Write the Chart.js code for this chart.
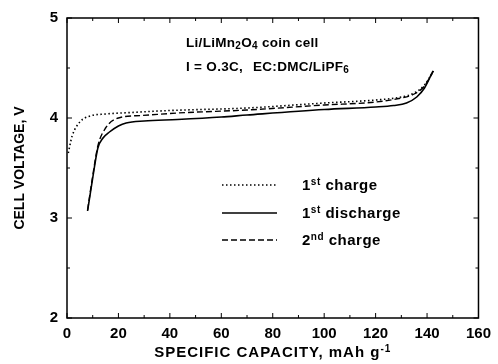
<!DOCTYPE html>
<html>
<head>
<meta charset="utf-8">
<script src="https://cdn.jsdelivr.net/npm/chart.js@4"></script>
<style>
  html, body { margin: 0; padding: 0; background: #fff; }
  #wrap { width: 498px; height: 364px; }
</style>
</head>
<body>
<div id="wrap"><canvas id="chartCell" width="498" height="364"></canvas></div>
<script>
// 1st charge (dotted)
const charge1Cap = [0.5, 2, 5, 9, 15, 25, 40, 70, 100, 120, 130, 135, 139, 142.5];
const charge1V = [3.65, 3.82, 3.96, 4.02, 4.04, 4.055, 4.075, 4.1, 4.15, 4.18, 4.21, 4.25, 4.33, 4.47];
// 1st discharge (solid)
const dischargeCap = [8, 10, 12, 14, 16.5, 20, 23, 30, 43, 60, 70, 100, 120, 127, 132, 136, 139, 142.3];
const dischargeV = [3.07, 3.4, 3.7, 3.8, 3.86, 3.92, 3.95, 3.97, 3.985, 4.01, 4.03, 4.085, 4.11, 4.125, 4.15, 4.21, 4.3, 4.47];
// 2nd charge (dashed)
const charge2Cap = [8, 10, 12, 15, 20, 29, 43, 70, 100, 120, 130, 135, 139, 142.5];
const charge2V = [3.08, 3.42, 3.72, 3.9, 4.0, 4.025, 4.05, 4.08, 4.13, 4.16, 4.2, 4.24, 4.32, 4.47];

const xTicks = [0, 20, 40, 60, 80, 100, 120, 140, 160];
const yTicks = [2, 3, 4, 5];

const toPoints = (xs, ys) => xs.map((x, i) => ({ x: x, y: ys[i] }));

const FONT = "'Liberation Sans', Arial, sans-serif";

// draws a run of text pieces, some raised or lowered
function drawRich(ctx, parts, x, y) {
  parts.forEach((p) => {
    ctx.font = "bold " + p.size + "px " + FONT;
    ctx.fillText(p.t, x, y + (p.dy || 0));
    x += ctx.measureText(p.t).width;
  });
  return x;
}

function richWidth(ctx, parts) {
  let w = 0;
  parts.forEach((p) => {
    ctx.font = "bold " + p.size + "px " + FONT;
    w += ctx.measureText(p.t).width;
  });
  return w;
}

const framePlugin = {
  id: "frame",
  afterDraw(chart) {
    const { ctx, chartArea: a, scales } = chart;
    const xs = scales.x, ys = scales.y;
    ctx.save();
    ctx.strokeStyle = "#000";
    ctx.lineWidth = 1.5;
    ctx.strokeRect(a.left, a.top, a.right - a.left, a.bottom - a.top);

    // inward ticks on all four sides
    ctx.lineWidth = 1;
    ctx.beginPath();
    for (let v = 0; v <= 160; v += 10) {
      const px = xs.getPixelForValue(v);
      const len = v % 20 === 0 ? 5 : 3;
      ctx.moveTo(px, a.bottom); ctx.lineTo(px, a.bottom - len);
      ctx.moveTo(px, a.top); ctx.lineTo(px, a.top + len);
    }
    for (let v = 2; v <= 5; v += 0.5) {
      const py = ys.getPixelForValue(v);
      const len = Number.isInteger(v) ? 5 : 3;
      ctx.moveTo(a.left, py); ctx.lineTo(a.left + len, py);
      ctx.moveTo(a.right, py); ctx.lineTo(a.right - len, py);
    }
    ctx.stroke();

    // annotation text
    ctx.fillStyle = "#000";
    ctx.textBaseline = "alphabetic";
    ctx.textAlign = "left";
    ctx.letterSpacing = "0.3px";
    const tx = a.left + 119;
    drawRich(ctx, [
      { t: "Li/LiMn", size: 13.5 },
      { t: "2", size: 10, dy: 2 },
      { t: "O", size: 13.5 },
      { t: "4", size: 10, dy: 2 },
      { t: " coin cell", size: 13.5 },
    ], tx, a.top + 29);
    drawRich(ctx, [{ t: "I = O.3C,", size: 13.5 }], tx, a.top + 53);
    drawRich(ctx, [
      { t: "EC:DMC/LiPF", size: 13.5 },
      { t: "6", size: 10, dy: 2 },
    ], tx + 67, a.top + 53);

    // legend
    ctx.letterSpacing = "0.5px";
    const rows = [
      { ds: 0, parts: [{ t: "1", size: 15 }, { t: "st", size: 10, dy: -5 }, { t: " charge", size: 15 }] },
      { ds: 1, parts: [{ t: "1", size: 15 }, { t: "st", size: 10, dy: -5 }, { t: " discharge", size: 15 }] },
      { ds: 2, parts: [{ t: "2", size: 15 }, { t: "nd", size: 10, dy: -5 }, { t: " charge", size: 15 }] },
    ];
    const rowY = [185, 213, 240];
    rows.forEach((r, i) => {
      const ds = chart.data.datasets[r.ds];
      const y = rowY[i];
      ctx.beginPath();
      ctx.setLineDash(ds.borderDash || []);
      ctx.lineWidth = ds.borderWidth;
      ctx.strokeStyle = ds.borderColor;
      ctx.moveTo(a.left + 155, y);
      ctx.lineTo(a.left + 210, y);
      ctx.stroke();
      ctx.setLineDash([]);
      drawRich(ctx, r.parts, a.left + 235, y + 5);
    });

    // x axis title with superscript
    ctx.letterSpacing = "1px";
    const title = [
      { t: "SPECIFIC CAPACITY, mAh g", size: 15 },
      { t: "-1", size: 10, dy: -5 },
    ];
    const w = richWidth(ctx, title);
    const cx = (a.left + a.right) / 2;
    drawRich(ctx, title, cx - w / 2, 357);
    ctx.restore();
  },
};

new Chart(document.getElementById("chartCell"), {
  type: "line",
  data: {
    datasets: [
      {
        label: "1st charge",
        data: toPoints(charge1Cap, charge1V),
        borderColor: "#000",
        borderWidth: 1.6,
        borderDash: [1.5, 2.5],
      },
      {
        label: "1st discharge",
        data: toPoints(dischargeCap, dischargeV),
        borderColor: "#000",
        borderWidth: 1.6,
      },
      {
        label: "2nd charge",
        data: toPoints(charge2Cap, charge2V),
        borderColor: "#000",
        borderWidth: 1.4,
        borderDash: [6, 3],
      },
    ],
  },
  options: {
    responsive: false,
    animation: false,
    layout: { padding: { top: 18, right: 15, left: 0, bottom: 0 } },
    elements: {
      point: { radius: 0 },
      line: { cubicInterpolationMode: "monotone", fill: false },
    },
    plugins: {
      legend: { display: false },
      tooltip: { enabled: false },
    },
    scales: {
      x: {
        type: "linear",
        min: 0,
        max: 160,
        afterBuildTicks: (s) => { s.ticks = xTicks.map((v) => ({ value: v })); },
        afterFit: (s) => { s.height = 46; },
        grid: { display: false, drawTicks: false },
        border: { display: false },
        ticks: {
          color: "#000",
          padding: 7,
          maxRotation: 0,
          font: { family: FONT, size: 15, weight: "bold" },
        },
      },
      y: {
        type: "linear",
        min: 2,
        max: 5,
        afterBuildTicks: (s) => { s.ticks = yTicks.map((v) => ({ value: v })); },
        afterFit: (s) => { s.width = 67; },
        grid: { display: false, drawTicks: false },
        border: { display: false },
        ticks: {
          color: "#000",
          padding: 9,
          font: { family: FONT, size: 15, weight: "bold" },
        },
        title: {
          display: true,
          text: "CELL VOLTAGE, V",
          color: "#000",
          padding: { top: 12 },
          font: { family: FONT, size: 14, weight: "bold" },
        },
      },
    },
  },
  plugins: [framePlugin],
});
</script>
</body>
</html>
